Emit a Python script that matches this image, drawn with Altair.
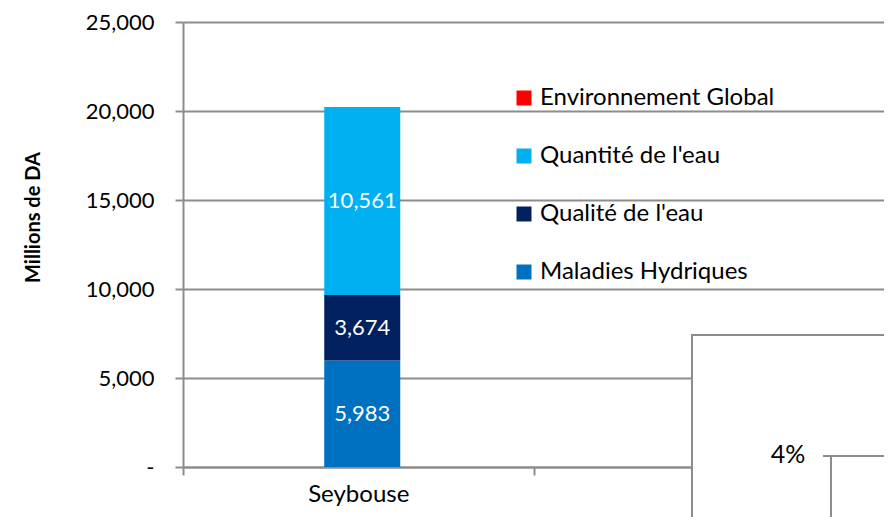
import altair as alt
import pandas as pd

categories = ["Seybouse", "Autre"]
series = ["Maladies Hydriques", "Qualité de l'eau", "Quantité de l'eau", "Environnement Global"]
seybouse_values = [5983, 3674, 10561, 0]
legend_order = ["Environnement Global", "Quantité de l'eau", "Qualité de l'eau", "Maladies Hydriques"]
legend_colors = ["#FF0000", "#00B0F0", "#002060", "#0070C0"]
y_ticks = [0, 5000, 10000, 15000, 20000, 25000]
inset_label = "4%"

rows = []
for i, (s, v) in enumerate(zip(series, seybouse_values)):
    rows.append({"cat": categories[0], "series": s, "value": v, "ord": i})
df = pd.DataFrame(rows)

FONT = "Lato"
GRAY = "#8c8c8c"

xenc = alt.X("cat:N", scale=alt.Scale(domain=categories, paddingInner=0, paddingOuter=0),
             axis=alt.Axis(title=None, labelAngle=0, labelFontSize=24, labelFont=FONT,
                           labelColor="#000000", labelPadding=7,
                           labelExpr="datum.value == 'Seybouse' ? datum.value : ''",
                           tickBand="extent", tickSize=8, tickColor=GRAY, tickWidth=2,
                           domainColor=GRAY, domainWidth=2, grid=False))

base = alt.Chart(df).transform_stack(
    stack="value", groupby=["cat"], as_=["v0", "v1"], sort=[alt.SortField("ord")]
).transform_calculate(mid="(datum.v0 + datum.v1) / 2")

yscale = alt.Scale(domain=[0, 25000], nice=False)

bars = base.mark_bar(size=76, xOffset=4).encode(
    x=xenc,
    y=alt.Y("v0:Q", scale=yscale,
            axis=alt.Axis(values=y_ticks, title="Millions de DA",
                          labelExpr="datum.value == 0 ? '-' : format(datum.value, ',')",
                          labelFontSize=22, labelFont=FONT, labelColor="#000000",
                          labelPadding=21, tickSize=8, tickColor=GRAY, tickWidth=2,
                          domainColor=GRAY, domainWidth=2, gridColor=GRAY, gridWidth=2,
                          titleFont=FONT, titleFontSize=20, titleFontWeight="bold",
                          titleColor="#000000", titleX=-150, titleY=195,
                          titleAlign="center", titleBaseline="middle")),
    y2="v1:Q",
    color=alt.Color("series:N", scale=alt.Scale(domain=legend_order, range=legend_colors),
                    legend=alt.Legend(title=None, orient="none", legendX=329, legendY=64,
                                      symbolType="square", symbolSize=225,
                                      symbolStrokeWidth=0, labelFontSize=24, labelFont=FONT,
                                      labelColor="#000000", rowPadding=34, labelOffset=4,
                                      labelLimit=400)),
)

labels = base.transform_filter("datum.value > 0").mark_text(
    color="white", fontSize=22, font=FONT, baseline="middle", xOffset=4
).encode(
    x=xenc,
    y=alt.Y("mid:Q", scale=yscale),
    text=alt.Text("value:Q", format=","),
)

one = alt.Chart(pd.DataFrame({"a": [0]}))
box = one.mark_rect(fill="white", stroke=GRAY, strokeWidth=2).encode(
    x=alt.value(509), x2=alt.value(760), y=alt.value(313), y2=alt.value(540))
hrule = one.mark_rule(color=GRAY, strokeWidth=2).encode(
    x=alt.value(640), x2=alt.value(760), y=alt.value(434))
vrule = one.mark_rule(color=GRAY, strokeWidth=2).encode(
    x=alt.value(648), y=alt.value(434), y2=alt.value(540))
inset_text = one.mark_text(fontSize=25, font=FONT, color="#000000", baseline="middle").encode(
    x=alt.value(605), y=alt.value(433), text=alt.value(inset_label))

chart = alt.layer(bars, labels, box, hrule, vrule, inset_text).properties(
    width=701, height=445,
    autosize=alt.AutoSizeParams(type="none"),
    padding={"left": 175, "top": 14, "right": 0, "bottom": 50},
).configure_view(stroke=None).configure(background="white")

chart.save("out.html", embed_options={"renderer": "svg", "actions": False})
